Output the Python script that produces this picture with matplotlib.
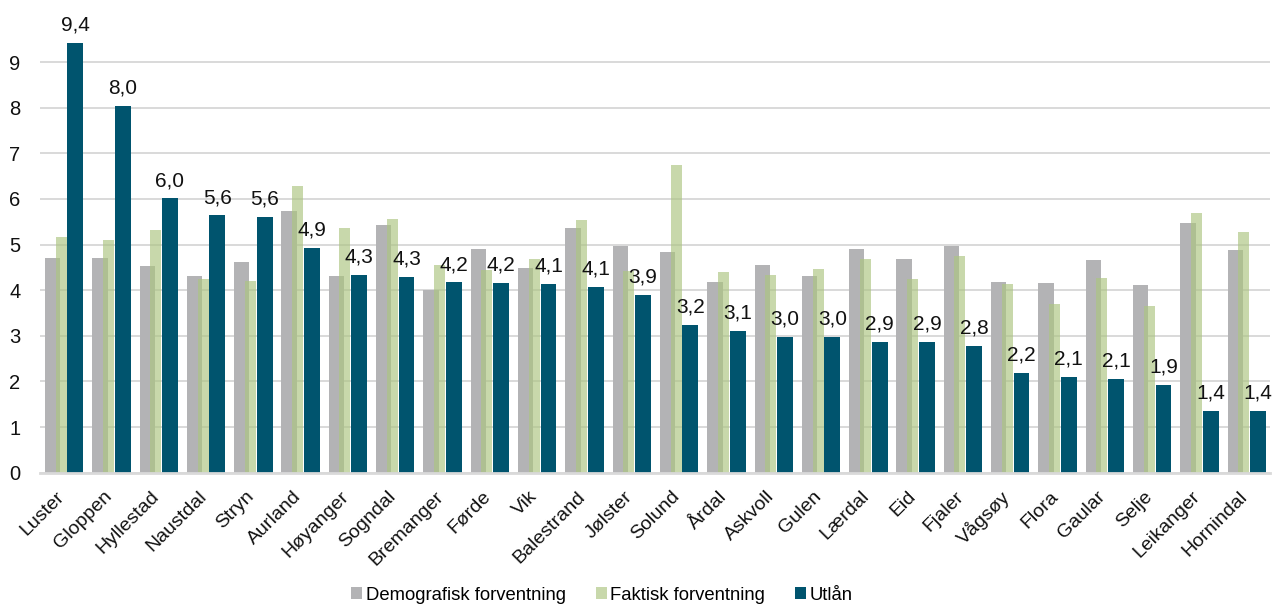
import matplotlib
matplotlib.use("Agg")
import matplotlib.pyplot as plt
import matplotlib.transforms as mtransforms
import numpy as np

categories = ["Luster", "Gloppen", "Hyllestad", "Naustdal", "Stryn", "Aurland", "Høyanger",
              "Sogndal", "Bremanger", "Førde", "Vik", "Balestrand", "Jølster", "Solund",
              "Årdal", "Askvoll", "Gulen", "Lærdal", "Eid", "Fjaler", "Vågsøy", "Flora",
              "Gaular", "Selje", "Leikanger", "Hornindal"]
demografisk = [4.70, 4.71, 4.53, 4.32, 4.62, 5.74, 4.30, 5.43, 4.00, 4.90, 4.49, 5.36, 4.97,
               4.84, 4.18, 4.55, 4.32, 4.90, 4.68, 4.96, 4.18, 4.16, 4.67, 4.12, 5.47, 4.88]
faktisk = [5.16, 5.10, 5.32, 4.25, 4.20, 6.28, 5.37, 5.56, 4.55, 4.44, 4.68, 5.54, 4.43,
           6.74, 4.40, 4.33, 4.46, 4.69, 4.25, 4.76, 4.14, 3.70, 4.27, 3.65, 5.69, 5.27]
utlan = [9.42, 8.04, 6.01, 5.64, 5.61, 4.93, 4.34, 4.29, 4.17, 4.16, 4.13, 4.08, 3.89,
         3.24, 3.10, 2.98, 2.98, 2.87, 2.86, 2.78, 2.19, 2.09, 2.06, 1.92, 1.36, 1.36]
series_names = ["Demografisk forventning", "Faktisk forventning", "Utlån"]
yticks = list(range(0, 10))

plt.rcParams['font.family'] = ['Liberation Sans', 'DejaVu Sans']

fig = plt.figure(figsize=(12.74, 6.08), dpi=100)
ax = fig.add_axes([40/1274, 1 - 472.7/608, 1230/1274, (472.7 - 16.4)/608])

x = np.arange(len(categories))
fs_leg = 13.3
fs_lab = 15
fs_xtick = 14
fs_ytick = 14.5

ax.bar(x - 0.406, demografisk, width=0.323, align='edge', color='#B3B3B5',
       label=series_names[0], zorder=2)
ax.bar(x - 0.18, faktisk, width=0.233, align='edge', color='#ADC582', alpha=0.67,
       label=series_names[1], zorder=3, linewidth=0)
bars = ax.bar(x + 0.07, utlan, width=0.335, align='edge', color='#00546E',
              label=series_names[2], zorder=4)

for b, v in zip(bars, utlan):
    ax.annotate(f"{v:.1f}".replace('.', ','), (b.get_x() + b.get_width() / 2, v),
                xytext=(0, 6), textcoords='offset points', ha='center', va='bottom',
                fontsize=fs_lab, color='#111111', zorder=5, annotation_clip=False)

ax.set_xlim(-0.51, 25.49)
ax.set_ylim(0, 10)
ax.set_yticks(yticks)
ax.set_yticklabels([str(t) for t in yticks])
ax.yaxis.grid(True, color='#D9D9D9', linewidth=1.4, zorder=0)
ax.set_axisbelow(True)
for s in ['top', 'right', 'left']:
    ax.spines[s].set_visible(False)
ax.spines['bottom'].set_color('#D9D9D9')
ax.spines['bottom'].set_linewidth(2)
ax.spines['bottom'].set_zorder(6)

ax.set_xticks(x)
ax.set_xticklabels(categories, rotation=45, ha='right', rotation_mode='default')
ax.tick_params(axis='x', length=0, pad=11, labelsize=fs_xtick, colors='#111111')
ax.tick_params(axis='y', length=0, pad=14, labelsize=fs_ytick, colors='#111111')
offset = mtransforms.ScaledTranslation(4/100, 0, fig.dpi_scale_trans)
for lbl in ax.get_xticklabels():
    lbl.set_transform(lbl.get_transform() + offset)

leg = fig.legend(loc='center', bbox_to_anchor=(0.4725, 0.021), ncol=3, frameon=False,
                 fontsize=fs_leg, handlelength=0.6, handleheight=0.6, handletextpad=0.2,
                 columnspacing=1.6)

fig.savefig("out.png", dpi=100)
